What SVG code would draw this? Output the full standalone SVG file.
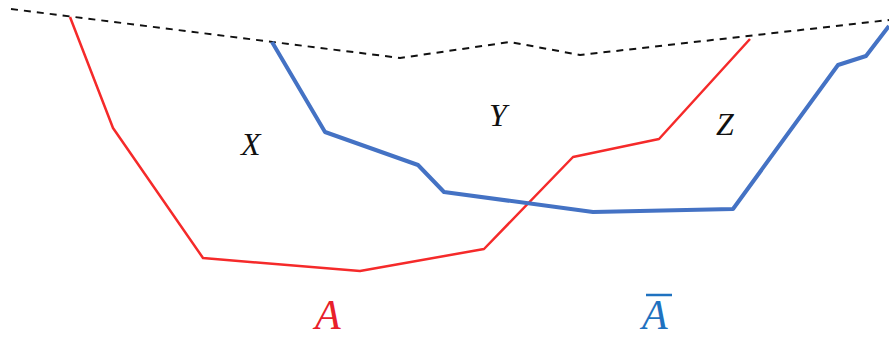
<svg xmlns="http://www.w3.org/2000/svg" width="889" height="338" viewBox="0 0 889 338">
<style>
.lbl{font-family:"Liberation Serif",serif;font-style:italic;fill:#111}
.big{font-family:"Liberation Serif",serif;font-style:italic;font-size:42px}
</style>
<rect width="889" height="338" fill="#fff"/>
<g id="connectors" fill="none" stroke-linejoin="round">
<polyline id="boundary" points="11,9 400,58 510,42 580,55 889,20" stroke="#111" stroke-width="2" stroke-dasharray="7,6"/>
<polyline id="curveA" points="70,17 113,128 203,258 360,271 484,249 573,157 659,139 750,39" stroke="#f52a2a" stroke-width="2.5"/>
<polyline id="curveAbar" points="272,42 325,132 418,165 444,192 593,212 733,209 838,65 866,56 889,26" stroke="#4472c4" stroke-width="4"/>
</g>
<g id="nodeX"><text class="lbl" x="241" y="155" font-size="32">X</text></g>
<g id="nodeY"><text class="lbl" x="489" y="126" font-size="32">Y</text></g>
<g id="nodeZ"><text class="lbl" x="716" y="135" font-size="32">Z</text></g>
<g id="labelA"><text class="big" x="315" y="329" fill="#e8202a">A</text></g>
<g id="labelAbar"><text class="big" x="642" y="329" fill="#1f72c0">A</text><line x1="646" y1="295" x2="672" y2="295" stroke="#1f72c0" stroke-width="2.5"/></g>
</svg>
